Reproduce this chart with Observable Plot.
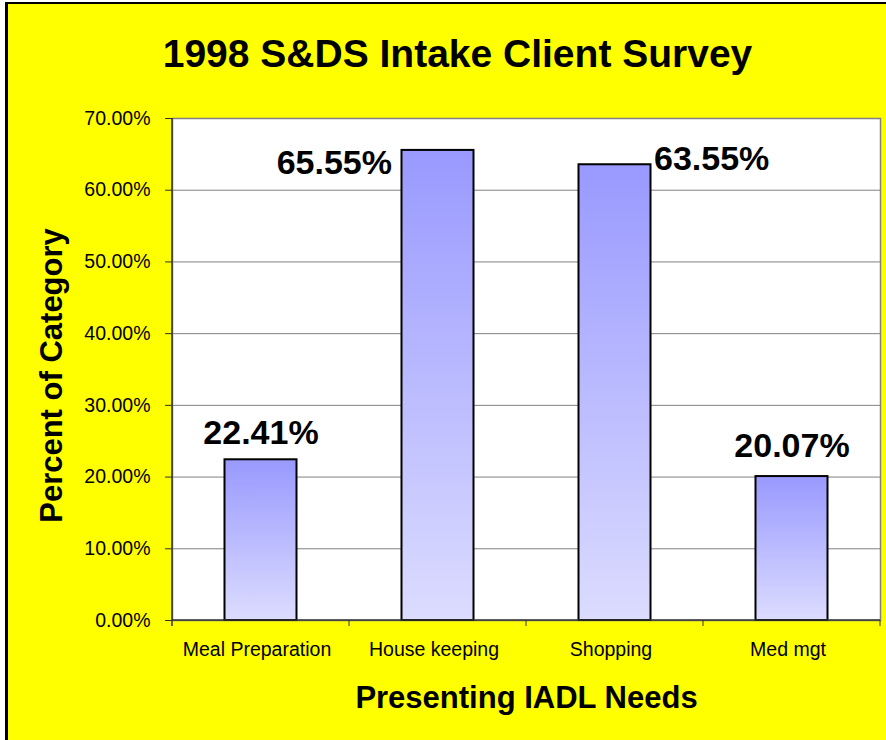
<!DOCTYPE html>
<html>
<head>
<meta charset="utf-8">
<script src="https://cdn.jsdelivr.net/npm/d3@7"></script>
<script src="https://cdn.jsdelivr.net/npm/@observablehq/plot@0.6"></script>
<style>
  html, body { margin: 0; padding: 0; background: #fff; overflow: hidden; width: 886px; height: 740px; }
  #bg { position: absolute; left: 5px; top: 2px; width: 881px; height: 738px; background: #ffff00;
        border-left: 3px solid #000; border-top: 2px solid #000; box-sizing: border-box; }
  #chart { position: absolute; left: 0; top: 0; }
  #chart svg { font-family: "Liberation Sans", Arial, sans-serif; }
</style>
</head>
<body>
<div id="bg"></div>
<div id="chart"></div>
<script>
const title = "1998 S&DS Intake Client Survey";
const xTitle = "Presenting IADL Needs";
const yTitle = "Percent of Category";
const categories = ["Meal Preparation", "House keeping", "Shopping", "Med mgt"];
const values = [0.2241, 0.6555, 0.6355, 0.2007];
const yTicks = [0, 0.1, 0.2, 0.3, 0.4, 0.5, 0.6, 0.7];

const data = categories.map((c, i) => ({category: c, value: values[i]}));

// label placement (style, not data)
const labelStyle = {
  "Meal Preparation": {dx: 0, dy: -27, textAnchor: "middle"},
  "House keeping": {dx: -46, dy: 13, textAnchor: "end"},
  "Shopping": {dx: 39, dy: -6, textAnchor: "start"},
  "Med mgt": {dx: 0, dy: -30, textAnchor: "middle"}
};

const defsMark = () => {
  const g = d3.create("svg:g");
  const grad = g.append("defs").append("linearGradient")
    .attr("id", "barGrad").attr("x1", 0).attr("y1", 0).attr("x2", 0).attr("y2", 1);
  grad.append("stop").attr("offset", "0%").attr("stop-color", "#9999ff");
  grad.append("stop").attr("offset", "100%").attr("stop-color", "#dcdcff");
  return g.node();
};

const axisLines = (index, scales, values, dims) => {
  const g = d3.create("svg:g").attr("stroke", "#333").attr("fill", "none");
  const left = dims.marginLeft, bottom = dims.height - dims.marginBottom;
  const right = dims.width - dims.marginRight;
  g.append("line").attr("x1", left).attr("x2", left).attr("y1", dims.marginTop).attr("y2", bottom + 6).attr("stroke-width", 1.5);
  g.append("line").attr("x1", left).attr("x2", right).attr("y1", bottom).attr("y2", bottom).attr("stroke-width", 1.5);
  const bw = scales.x.bandwidth ? scales.x.bandwidth() : 0;
  categories.forEach(c => {
    const xe = scales.x(c) + bw;
    g.append("line").attr("x1", xe).attr("x2", xe).attr("y1", bottom).attr("y2", bottom + 6).attr("stroke-width", 1);
  });
  return g.node();
};

const labelMarks = categories.map((c, i) => Plot.text([data[i]], {
  x: "category", y: "value",
  text: d => d3.format(".2%")(d.value),
  dx: labelStyle[c].dx, dy: labelStyle[c].dy, textAnchor: labelStyle[c].textAnchor,
  lineAnchor: "middle", fontSize: 34, fontWeight: "bold", fill: "#000"
}));

const plot = Plot.plot({
  width: 886,
  height: 740,
  marginLeft: 172,
  marginRight: 6,
  marginTop: 118,
  marginBottom: 120,
  style: {background: "transparent", fontFamily: "'Liberation Sans', Arial, sans-serif", color: "#000"},
  x: {type: "band", domain: categories, padding: 0},
  y: {domain: [0, 0.7]},
  marks: [
    defsMark,
    Plot.frame({fill: "#ffffff", stroke: "none"}),
    Plot.gridY(yTicks, {stroke: "#808080", strokeOpacity: 1, strokeWidth: 1}),
    Plot.frame({stroke: "#808080", strokeWidth: 1.5}),
    Plot.barY(data, {x: "category", y: "value", fill: "url(#barGrad)", stroke: "#000", strokeWidth: 2, insetLeft: 52.5, insetRight: 52.5}),
    axisLines,
    Plot.axisY({ticks: yTicks, tickFormat: d3.format(".2%"), tickSize: 7, tickPadding: 15, fontSize: 19.5, stroke: "#333", color: "#000", label: null}),
    Plot.axisX({tickSize: 0, tickPadding: 22, fontSize: 19.5, dx: -4, label: null}),
    ...labelMarks,
    Plot.text([title], {frameAnchor: "top", dx: -69, dy: -64, lineAnchor: "middle", textAnchor: "middle", fontSize: 39, fontWeight: "bold", fill: "#000"}),
    Plot.text([xTitle], {frameAnchor: "bottom", dy: 77.5, lineAnchor: "middle", textAnchor: "middle", fontSize: 31, fontWeight: "bold", fill: "#000"}),
    Plot.text([yTitle], {frameAnchor: "left", dx: -120, dy: 6, rotate: -90, lineAnchor: "middle", textAnchor: "middle", fontSize: 31, fontWeight: "bold", fill: "#000"})
  ]
});
document.getElementById("chart").appendChild(plot);
</script>
</body>
</html>
